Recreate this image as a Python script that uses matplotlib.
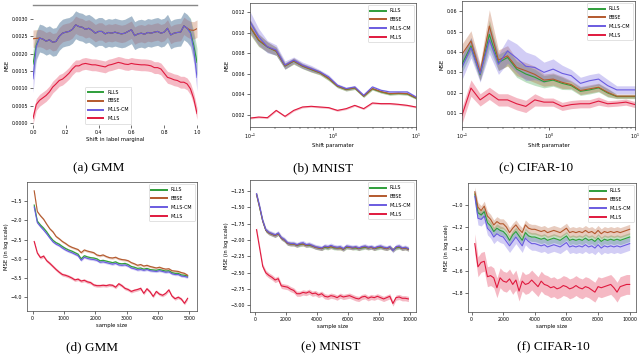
import numpy as np
import matplotlib
matplotlib.use("Agg")
import matplotlib.pyplot as plt

names = ["RLLS", "BBSE", "MLLS-CM", "MLLS"]
colors = ["#2e9e3a", "#b3592d", "#6a5be0", "#e0193e"]

# ---- (a) GMM, shift in label marginal
x_a = np.linspace(0, 1, 51)
mid_a = [0.00242, 0.00236, 0.00240, 0.00233, 0.00235, 0.00250, 0.00259, 0.00262, 0.00264,
         0.00270, 0.00283, 0.00278, 0.00276, 0.00270, 0.00273, 0.00267, 0.00259, 0.00264,
         0.00264, 0.00257, 0.00261, 0.00259, 0.00262, 0.00259, 0.00257, 0.00259, 0.00264,
         0.00269, 0.00252, 0.00257, 0.00259, 0.00256, 0.00261, 0.00259, 0.00262, 0.00264,
         0.00259, 0.00262, 0.00273, 0.00254, 0.00259, 0.00261, 0.00262, 0.00280, 0.00273]
rlls_a = [0.00170, 0.00225, 0.00245] + mid_a + [0.00262, 0.00225, 0.00175]
bbse_a = [0.00243, 0.00244, 0.00245] + mid_a + [0.00268, 0.00267, 0.00272]
cm_a = [0.00128, 0.00220, 0.00245] + mid_a + [0.00259, 0.00212, 0.00132]
mlls_a = [0.00014, 0.00054, 0.00066, 0.00073, 0.00080, 0.00090, 0.00104, 0.00113, 0.00123,
          0.00127, 0.00135, 0.00144, 0.00156, 0.00165, 0.00165, 0.00170, 0.00172, 0.00170,
          0.00168, 0.00168, 0.00166, 0.00164, 0.00162, 0.00167, 0.00169, 0.00172, 0.00175,
          0.00173, 0.00170, 0.00169, 0.00172, 0.00170, 0.00169, 0.00168, 0.00168, 0.00167,
          0.00165, 0.00160, 0.00160, 0.00156, 0.00144, 0.00132, 0.00129, 0.00125, 0.00123,
          0.00118, 0.00118, 0.00113, 0.00099, 0.00071, 0.00028]
err_a = [0.00040, 0.00025, 0.00040, 0.00017]

# ---- (b) MNIST, shift parameter
x_b = [0.1, 0.127, 0.162, 0.207, 0.264, 0.336, 0.428, 0.546, 0.695, 0.886,
       1.13, 1.44, 1.83, 2.34, 2.98, 3.79, 4.83, 6.16, 7.85, 10.0]
cm_b = [0.01108, 0.00961, 0.00863, 0.00831, 0.00684, 0.00733, 0.00684, 0.00651, 0.00618, 0.00569,
        0.00488, 0.00455, 0.00471, 0.00390, 0.00471, 0.00438, 0.00422, 0.00422, 0.00422, 0.00373]
bbse_b = [0.01060, 0.00930, 0.00863, 0.00820, 0.00676, 0.00725, 0.00676, 0.00643, 0.00610, 0.00555,
          0.00480, 0.00448, 0.00463, 0.00382, 0.00455, 0.00425, 0.00405, 0.00410, 0.00405, 0.00365]
rlls_b = [0.01055, 0.00925, 0.00860, 0.00818, 0.00674, 0.00722, 0.00674, 0.00640, 0.00608, 0.00552,
          0.00478, 0.00445, 0.00460, 0.00380, 0.00452, 0.00422, 0.00402, 0.00407, 0.00402, 0.00362]
mlls_b = [0.00167, 0.00177, 0.00171, 0.00242, 0.00184, 0.00242, 0.00275, 0.00282, 0.00275, 0.00269,
          0.00242, 0.00259, 0.00291, 0.00259, 0.00314, 0.00308, 0.00308, 0.00301, 0.00291, 0.00275]
err_b_cm = [0.0010, 0.0008, 0.0006, 0.0005, 0.0004, 0.0003, 0.0003, 0.0003, 0.0002, 0.0002,
            0.00015, 0.00015, 0.00015, 0.00012, 0.00012, 0.00012, 0.00012, 0.00012, 0.00012, 0.00012]
err_b_bb = [0.0007, 0.0006, 0.0005, 0.0004, 0.0003, 0.0003, 0.00025, 0.00025, 0.0002, 0.0002,
            0.00015, 0.00015, 0.00015, 0.00012, 0.00012, 0.00012, 0.00012, 0.00012, 0.00012, 0.00012]
err_b_ml = 0.00009

# ---- (c) CIFAR-10, shift parameter
x_c = x_b
rlls_c = [0.0340, 0.0430, 0.0288, 0.0486, 0.0348, 0.0373, 0.0316, 0.0292, 0.0276, 0.0254,
          0.0262, 0.0246, 0.0235, 0.0207, 0.0214, 0.0224, 0.0199, 0.0181, 0.0181, 0.0181]
bbse_c = [0.0389, 0.0454, 0.0300, 0.0527, 0.0360, 0.0381, 0.0324, 0.0308, 0.0290, 0.0262,
          0.0267, 0.0251, 0.0240, 0.0211, 0.0219, 0.0227, 0.0202, 0.0183, 0.0183, 0.0183]
cm_c = [0.0324, 0.0421, 0.0292, 0.0460, 0.0340, 0.0405, 0.0370, 0.0330, 0.0324, 0.0300,
        0.0316, 0.0295, 0.0284, 0.0246, 0.0259, 0.0267, 0.0235, 0.0214, 0.0214, 0.0214]
mlls_c = [0.0089, 0.0223, 0.0165, 0.0197, 0.0165, 0.0165, 0.0146, 0.0133, 0.0165, 0.0154,
          0.0154, 0.0133, 0.0142, 0.0146, 0.0146, 0.0159, 0.0146, 0.0149, 0.0154, 0.0142]
err_c_rl = [0.004, 0.004, 0.003, 0.007, 0.004, 0.004, 0.004, 0.004, 0.004, 0.003,
            0.003, 0.003, 0.002, 0.002, 0.002, 0.002, 0.002, 0.001, 0.001, 0.001]
err_c_bb = [0.005, 0.005, 0.004, 0.008, 0.005, 0.005, 0.004, 0.004, 0.004, 0.003,
            0.003, 0.003, 0.002, 0.002, 0.002, 0.002, 0.002, 0.001, 0.001, 0.001]
err_c_cm = [0.006, 0.005, 0.004, 0.007, 0.005, 0.006, 0.007, 0.007, 0.006, 0.005,
            0.005, 0.004, 0.003, 0.003, 0.003, 0.003, 0.003, 0.002, 0.002, 0.002]
err_c_ml = [0.004, 0.004, 0.003, 0.003, 0.003, 0.003, 0.003, 0.003, 0.003, 0.002,
            0.002, 0.002, 0.002, 0.002, 0.002, 0.002, 0.0015, 0.0015, 0.0015, 0.0015]

# ---- (d) GMM, sample size
x_d = np.arange(50, 5000, 100)
bbse_d = [-1.23, -1.77, -1.88, -1.97, -2.10, -2.22, -2.30, -2.42, -2.48, -2.55,
          -2.60, -2.66, -2.70, -2.73, -2.76, -2.84, -2.77, -2.80, -2.82, -2.84,
          -2.90, -2.92, -2.90, -2.94, -2.97, -2.98, -2.96, -3.00, -3.02, -3.03,
          -3.05, -3.10, -3.13, -3.17, -3.15, -3.19, -3.17, -3.20, -3.22, -3.24,
          -3.22, -3.25, -3.27, -3.26, -3.31, -3.32, -3.33, -3.36, -3.38, -3.43]
rlls_d = [-1.60, -2.02, -2.12, -2.20, -2.30, -2.42, -2.52, -2.58, -2.62, -2.68,
          -2.73, -2.77, -2.80, -2.84, -2.88, -3.00, -2.92, -2.95, -2.97, -2.98,
          -3.00, -3.05, -3.04, -3.06, -3.08, -3.10, -3.08, -3.12, -3.13, -3.12,
          -3.15, -3.20, -3.22, -3.25, -3.24, -3.27, -3.25, -3.28, -3.29, -3.30,
          -3.28, -3.30, -3.32, -3.31, -3.36, -3.38, -3.38, -3.42, -3.43, -3.45]
cm_d = [-1.65, -2.06, -2.16, -2.25, -2.35, -2.46, -2.56, -2.62, -2.66, -2.72,
        -2.77, -2.81, -2.84, -2.88, -2.92, -3.04, -2.96, -2.99, -3.01, -3.02,
        -3.04, -3.09, -3.08, -3.10, -3.12, -3.14, -3.12, -3.16, -3.17, -3.16,
        -3.19, -3.24, -3.26, -3.29, -3.28, -3.30, -3.28, -3.31, -3.32, -3.33,
        -3.31, -3.33, -3.35, -3.34, -3.39, -3.41, -3.41, -3.45, -3.46, -3.48]
mlls_d = [-2.55, -2.85, -2.97, -2.93, -3.05, -3.12, -3.20, -3.28, -3.35, -3.41,
          -3.43, -3.46, -3.50, -3.55, -3.53, -3.58, -3.56, -3.60, -3.62, -3.68,
          -3.70, -3.70, -3.69, -3.70, -3.68, -3.69, -3.74, -3.65, -3.70, -3.77,
          -3.80, -3.85, -3.82, -3.80, -3.77, -3.90, -3.78, -3.86, -3.98, -3.85,
          -3.92, -3.95, -3.90, -3.81, -3.97, -4.04, -4.00, -4.05, -4.16, -4.03]
err_d = [0.03, 0.03, 0.03, 0.04]

# ---- (e) MNIST, sample size
x_e = np.arange(100, 10000, 200)
cm_e = [-1.29, -1.48, -1.70, -1.84, -1.88, -1.90, -1.92, -1.89, -1.96, -1.99,
        -2.04, -2.05, -2.05, -2.07, -2.05, -2.04, -2.07, -2.06, -2.08, -2.10,
        -2.11, -2.12, -2.09, -2.10, -2.08, -2.10, -2.11, -2.10, -2.13, -2.09,
        -2.10, -2.11, -2.10, -2.12, -2.10, -2.09, -2.11, -2.10, -2.12, -2.10,
        -2.09, -2.11, -2.12, -2.10, -2.16, -2.10, -2.09, -2.12, -2.11, -2.13]
bbse_e = [-1.30, -1.50, -1.71, -1.85, -1.89, -1.91, -1.93, -1.90, -1.97, -2.00,
          -2.05, -2.06, -2.06, -2.08, -2.06, -2.06, -2.08, -2.07, -2.09, -2.11,
          -2.12, -2.13, -2.10, -2.11, -2.10, -2.11, -2.12, -2.12, -2.14, -2.10,
          -2.11, -2.12, -2.11, -2.13, -2.11, -2.10, -2.12, -2.11, -2.13, -2.11,
          -2.10, -2.12, -2.13, -2.11, -2.15, -2.11, -2.10, -2.13, -2.12, -2.14]
rlls_e = [-1.30, -1.50, -1.71, -1.85, -1.89, -1.91, -1.93, -1.90, -1.97, -2.00,
          -2.05, -2.06, -2.06, -2.08, -2.07, -2.06, -2.08, -2.08, -2.09, -2.11,
          -2.12, -2.13, -2.11, -2.12, -2.10, -2.12, -2.12, -2.12, -2.14, -2.11,
          -2.11, -2.12, -2.12, -2.13, -2.12, -2.11, -2.12, -2.11, -2.13, -2.12,
          -2.11, -2.12, -2.13, -2.11, -2.15, -2.12, -2.11, -2.13, -2.12, -2.14]
mlls_e = [-1.84, -2.12, -2.40, -2.50, -2.54, -2.57, -2.61, -2.59, -2.70, -2.71,
          -2.72, -2.75, -2.77, -2.82, -2.82, -2.80, -2.81, -2.79, -2.82, -2.81,
          -2.84, -2.82, -2.86, -2.87, -2.85, -2.86, -2.88, -2.85, -2.87, -2.86,
          -2.85, -2.87, -2.89, -2.90, -2.87, -2.86, -2.89, -2.87, -2.88, -2.86,
          -2.88, -2.90, -2.88, -2.86, -2.97, -2.88, -2.87, -2.89, -2.89, -2.90]
err_e = [0.03, 0.03, 0.035, 0.04]

# ---- (f) CIFAR-10, sample size
x_f = np.arange(200, 10001, 200)
bbse_f = [-0.88, -1.02, -1.05, -1.01, -1.10, -1.13, -1.18, -1.15, -1.17, -1.17,
          -1.20, -1.25, -1.21, -1.18, -1.22, -1.25, -1.18, -1.21, -1.22, -1.22,
          -1.23, -1.24, -1.23, -1.25, -1.24, -1.23, -1.24, -1.25, -1.23, -1.21,
          -1.25, -1.24, -1.25, -1.24, -1.25, -1.23, -1.25, -1.24, -1.26, -1.23,
          -1.26, -1.24, -1.25, -1.24, -1.25, -1.24, -1.25, -1.24, -1.23, -1.22]
rlls_f = [-0.90, -1.07, -1.09, -1.06, -1.16, -1.19, -1.24, -1.21, -1.23, -1.24,
          -1.27, -1.32, -1.27, -1.24, -1.28, -1.32, -1.25, -1.28, -1.29, -1.29,
          -1.30, -1.31, -1.30, -1.32, -1.31, -1.30, -1.31, -1.32, -1.30, -1.28,
          -1.32, -1.31, -1.32, -1.31, -1.32, -1.30, -1.32, -1.31, -1.33, -1.30,
          -1.33, -1.31, -1.32, -1.31, -1.32, -1.31, -1.32, -1.31, -1.30, -1.29]
cm_f = [-0.92, -1.12, -1.13, -1.10, -1.21, -1.24, -1.29, -1.26, -1.28, -1.29,
        -1.33, -1.37, -1.33, -1.29, -1.33, -1.37, -1.30, -1.33, -1.35, -1.35,
        -1.36, -1.37, -1.36, -1.38, -1.37, -1.36, -1.37, -1.38, -1.36, -1.34,
        -1.38, -1.37, -1.38, -1.37, -1.38, -1.36, -1.38, -1.37, -1.39, -1.36,
        -1.39, -1.37, -1.38, -1.37, -1.38, -1.37, -1.38, -1.37, -1.36, -1.35]
mlls_f = [-1.35, -1.56, -1.52, -1.51, -1.65, -1.64, -1.66, -1.75, -1.66, -1.69,
          -1.70, -1.67, -1.72, -1.68, -1.78, -1.69, -1.72, -1.71, -1.68, -1.71,
          -1.74, -1.69, -1.72, -1.73, -1.75, -1.74, -1.76, -1.75, -1.73, -1.74,
          -1.76, -1.75, -1.73, -1.75, -1.76, -1.74, -1.75, -1.77, -1.79, -1.74,
          -1.75, -1.74, -1.73, -1.72, -1.75, -1.79, -1.74, -1.73, -1.72, -1.72]
err_f = [0.04, 0.045, 0.06, 0.09]

captions = ["(a) GMM", "(b) MNIST", "(c) CIFAR-10", "(d) GMM", "(e) MNIST", "(f) CIFAR-10"]

plt.rcParams["font.family"] = "DejaVu Sans"
fig = plt.figure(figsize=(6.4, 3.55), dpi=100)
W, H = 640, 355


def make_ax(l, r, t, b):
    return fig.add_axes([l / W, (H - b) / H, (r - l) / W, (b - t) / H])


def draw(ax, x, ys, errs):
    for y, e, c, n in zip(ys, errs, colors, names):
        y = np.asarray(y)
        e = np.asarray(e)
        ax.fill_between(x, y - e, y + e, color=c, alpha=0.3, lw=0)
        ax.plot(x, y, color=c, lw=0.8, label=n)
    ax.tick_params(labelsize=3.4, length=2, width=0.4, pad=1.5)
    ax.tick_params(which="minor", length=1.2, width=0.3)
    for s in ax.spines.values():
        s.set_linewidth(0.5)
        s.set_color("#444444")


def legend(ax, **kw):
    lg = ax.legend(fontsize=3.4, handlelength=3.2, borderpad=0.6, labelspacing=0.8,
                   handletextpad=0.8, framealpha=1, edgecolor="#cccccc", **kw)
    for h in lg.get_lines():
        h.set_linewidth(1.4)
    lg.get_frame().set_linewidth(0.4)


ax = make_ax(33, 197, 5, 125)
draw(ax, x_a, [rlls_a, bbse_a, cm_a, mlls_a], err_a)
ax.set_xlim(0, 1)
ax.set_ylim(-0.00005, 0.0034)
ax.set_yticks(np.arange(0, 0.0031, 0.0005))
ax.yaxis.set_major_formatter(matplotlib.ticker.FormatStrFormatter("%.4f"))
ax.set_xlabel("Shift in label marginal", fontsize=3.8, labelpad=1.5)
ax.set_ylabel("MSE", fontsize=3.8, labelpad=1.5)
for s in ["left", "right", "bottom"]:
    ax.spines[s].set_visible(False)
ax.spines["top"].set_color("#888888")
ax.spines["top"].set_linewidth(1.0)
legend(ax, loc="lower center", bbox_to_anchor=(0.46, -0.01))

ax = make_ax(250, 416, 3, 127)
draw(ax, x_b, [rlls_b, bbse_b, cm_b, mlls_b], [err_b_bb, err_b_bb, err_b_cm, err_b_ml])
ax.set_xscale("log")
ax.set_xlim(0.1, 10)
ax.set_ylim(0.0008, 0.0129)
ax.set_yticks([0.002, 0.004, 0.006, 0.008, 0.010, 0.012])
ax.yaxis.set_major_formatter(matplotlib.ticker.FormatStrFormatter("%.3f"))
ax.set_xlabel("Shift paramater", fontsize=3.8, labelpad=1.5)
ax.set_ylabel("MSE", fontsize=3.8, labelpad=1.5)
legend(ax, loc="upper right")

ax = make_ax(462, 635, 1, 127)
draw(ax, x_c, [rlls_c, bbse_c, cm_c, mlls_c], [err_c_rl, err_c_bb, err_c_cm, err_c_ml])
ax.set_xscale("log")
ax.set_xlim(0.1, 10)
ax.set_ylim(0.0032, 0.065)
ax.set_yticks([0.01, 0.02, 0.03, 0.04, 0.05, 0.06])
ax.yaxis.set_major_formatter(matplotlib.ticker.FormatStrFormatter("%.2f"))
ax.set_xlabel("Shift paramater", fontsize=3.8, labelpad=1.5)
ax.set_ylabel("MSE", fontsize=3.8, labelpad=1.5)
legend(ax, loc="upper right")

ax = make_ax(27, 197, 182, 311)
draw(ax, x_d, [rlls_d, bbse_d, cm_d, mlls_d], err_d)
ax.set_xlim(-180, 5250)
ax.set_ylim(-4.36, -1.0)
ax.set_yticks([-4.0, -3.5, -3.0, -2.5, -2.0, -1.5])
ax.set_xlabel("sample size", fontsize=3.8, labelpad=1.5)
ax.set_ylabel("MSE (in log scale)", fontsize=3.8, labelpad=1.5)
legend(ax, loc="upper right")

ax = make_ax(250, 416, 180, 312)
draw(ax, x_e, [rlls_e, bbse_e, cm_e, mlls_e], err_e)
ax.set_xlim(-320, 10390)
ax.set_ylim(-3.10, -1.08)
ax.set_yticks([-3.0, -2.75, -2.5, -2.25, -2.0, -1.75, -1.5, -1.25])
ax.set_xlabel("sample size", fontsize=3.8, labelpad=1.5)
ax.set_ylabel("MSE (in log scale)", fontsize=3.8, labelpad=1.5)
legend(ax, loc="upper right")

ax = make_ax(468, 636, 183, 312)
draw(ax, x_f, [rlls_f, bbse_f, cm_f, mlls_f], err_f)
ax.set_xlim(-230, 10400)
ax.set_ylim(-1.97, -0.80)
ax.set_yticks([-1.8, -1.6, -1.4, -1.2, -1.0])
ax.set_xlabel("sample size", fontsize=3.8, labelpad=1.5)
ax.set_ylabel("MSE (in log scale)", fontsize=3.8, labelpad=1.5)
legend(ax, loc="upper right")

cap_pos = [(99, 168), (323, 168), (536, 168), (92, 347), (331, 347), (553, 347)]
for (cx, cy), txt in zip(cap_pos, captions):
    fig.text(cx / W, 1 - cy / H, txt, ha="center", va="center",
             fontsize=9.5, family="Liberation Serif")

fig.savefig("out.png", dpi=100)
